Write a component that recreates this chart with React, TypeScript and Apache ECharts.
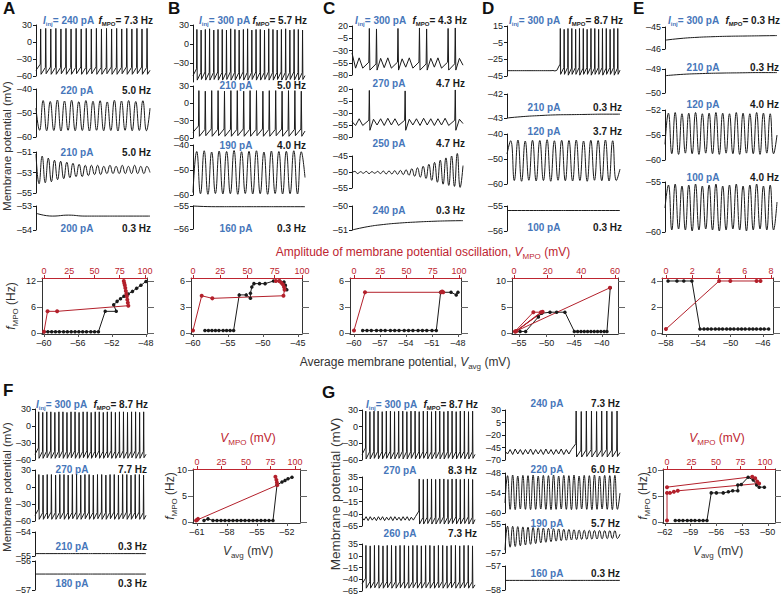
import React, { useEffect, useRef } from "react";
import * as echarts from "echarts";

// ---------------- membrane potential traces (sequence of extrema, mV) ----------------
const A1 = [-50, 23, -57, 24, -56, 23, -57, 24, -57, 23, -56, 24, -57, 23, -57, 24, -56, 23, -57, 24, -57, 23, -56, 24, -57, 23, -57, 24, -56, 23, -57, 24, -57, 23, -56, 24, -57, 23, -57, 24, -56, 23, -57, 24, -57, -50];
const A2 = [-48, -57.2, -44.8, -57.4, -45.2, -57.3, -44.6, -57.5, -45.0, -57.2, -44.7, -57.4, -45.3, -57.3, -44.8, -57.5, -45.1, -57.2, -44.9, -57.4, -45.4, -57.3, -44.7, -57.5, -45.0, -57.2, -44.8, -57.4, -45.2, -57.3, -44.9, -57.4, -48];
const A3 = [-51.2, -54.1, -51.4, -54.0, -51.6, -53.9, -51.8, -53.7, -51.9, -53.6, -52.0, -53.5, -52.1, -53.4, -52.2, -53.4, -52.3, -53.3, -52.3, -53.2, -52.3, -53.2, -52.4, -53.1, -52.3, -53.1, -52.4, -53.1, -52.3, -53.1, -52.4, -53.1, -52.3, -53.1, -52.4, -53.1, -52.4, -53.0];
const A4 = [-53.3, -53.42, -53.38, -53.42, -53.42, -53.42, -53.42, -53.42];
const B1 = [-50, 23, -57, 22, -56, 23, -57, 24, -57, 22, -56, 23, -57, 23, -57, 22, -56, 24, -57, 23, -57, 22, -56, 23, -57, 24, -57, 22, -56, 23, -57, 23, -57, 22, -56, 24, -57, 23, -57, 22, -56, 23, -57, 24, -57, 22, -56, 23, -57, 23, -57, 22, -56, -50];
const B2 = [-50, 22, -57, 21, -56, 22, -57, 22, -56, 21, -57, 22, -57, 22, -56, 21, -57, 22, -57, 22, -56, 21, -57, 22, -57, 22, -56, 21, -57, 22, -57, 22, -56, 21, -57, -48];
const B3 = [-59, -42.6, -59.5, -42.3, -59.7, -42.8, -59.4, -42.4, -59.6, -42.6, -59.5, -42.2, -59.7, -42.7, -59.4, -42.5, -59.6, -42.3, -59.5, -42.8, -59.7, -42.4, -59.4, -42.6, -59.6, -42.5, -59.5, -42.3, -59.6, -42.7, -53];
const B4 = [-55.0, -55.03, -55.03, -55.03, -55.03, -55.03];
const C1 = [-35, -66, -45, -66, 15, -70, 14, -70, -46, -65, -45, -66, 15, -70, -47, -64, -45, -66, 16, -70, 14, -70, -46, -64, -45, -66, 15, -70, 16, -70, -46, -60];
const C2 = [-48, -56, -42, -56, 17, -66, -43, -55, -42, -56, -41, -55, -42, -56, 16, -66, -43, -55, -42, -56, -41, -55, -42, -56, -42, -55, -41, -56, 18, -66, -43, -52];
const C3 = [-50.2, -49.8, -50.5, -49.9, -50.4, -49.8, -50.5, -49.9, -50.4, -49.8, -50.5, -49.7, -50.6, -49.7, -50.6, -49.6, -50.7, -49.5, -50.8, -49.3, -51.0, -49.0, -51.3, -48.7, -51.6, -48.2, -52.0, -47.6, -52.6, -47.0, -53.2, -46.3, -53.8, -45.6, -54.2, -45.0, -54.5, -44.2, -54.8, -48];
const C4 = [-51, -50.86, -50.77, -50.71, -50.67, -50.64, -50.62, -50.61];
const D1 = [-38.6, -38.6, -38.6, -38.6, -38.6, -38.6, -38.6, -38.6, -38.6, -38.6, -38.6, -38.6, -38.6, -38.6, -38.6, -38.6, -38.6, -38.6, -38.6, -38.6, -38.6, -38.6, -38.6, -38.6, -38.4, -38.9, -38.3, 12, -43, 11, -43, 12, -44, 12, -43, 11, -43, 12, -44, 12, -43, 11, -43, 12, -44, 12, -43, 11, -43, 12, -44, 12, -43, 11, -43, 12, -44, 12, -43, -38];
const D2 = [-43, -42.94, -42.9, -42.87, -42.86, -42.85, -42.84, -42.84];
const D3 = [-48, -42.7, -58.6, -42.4, -58.9, -42.8, -58.5, -42.5, -58.8, -42.6, -58.6, -42.3, -58.9, -42.7, -58.5, -42.5, -58.7, -42.6, -58.8, -42.4, -58.6, -42.8, -58.9, -42.5, -58.5, -42.6, -58.7, -42.4, -58.8, -42.7, -58.6, -54];
const D4 = [-55.18, -55.18, -55.18, -55.18, -55.18, -55.18];
const E1 = [-45.6, -45.52, -45.47, -45.44, -45.42, -45.41, -45.4, -45.39];
const E2 = [-49.28, -49.22, -49.19, -49.17, -49.16, -49.15, -49.15];
const E3 = [-57.5, -52.5, -59.0, -52.4, -59.1, -52.6, -58.9, -52.5, -59.0, -52.4, -59.1, -52.6, -58.9, -52.5, -59.0, -52.4, -59.1, -52.5, -58.9, -52.6, -59.0, -52.4, -59.1, -52.5, -58.9, -52.6, -59.0, -52.4, -59.1, -52.5, -58.9, -52.6, -59.0, -56];
const E4 = [-57.6, -55.3, -59.8, -55.2, -59.7, -55.4, -59.8, -55.3, -59.9, -55.2, -59.8, -55.4, -59.7, -55.3, -59.8, -55.2, -59.9, -55.4, -59.8, -55.3, -59.7, -55.2, -59.8, -55.4, -59.9, -55.3, -59.8, -55.2, -59.7, -55.4, -59.8, -55.3, -59.8, -57];
const F1 = [-50, 25, -57, 24, -57, 25, -56, 25, -57, 24, -57, 25, -56, 25, -57, 24, -57, 25, -56, 25, -57, 24, -57, 25, -56, 25, -57, 24, -57, 25, -56, 25, -57, 24, -57, 25, -56, 25, -57, 24, -57, 25, -56, 25, -57, 24, -57, 25, -56, 25, -57, 24, -57, 25, -56, -50];
const F2 = [-50, 22, -57, 21, -57, 22, -56, 22, -57, 21, -57, 22, -56, 22, -57, 21, -57, 22, -56, 22, -57, 21, -57, 22, -56, 22, -57, 21, -57, 22, -56, 22, -57, 21, -57, 22, -56, 22, -57, 21, -57, 22, -56, 22, -57, 21, -57, 22, -56, 22, -57, 21, -57, -50];
const F3 = [-54.9, -54.9, -54.9, -54.9, -54.9, -54.9];
const F4 = [-56.45, -56.45, -56.45, -56.45, -56.45, -56.45];
const G1 = [-50, 28, -58, 27, -58, 28, -57, 28, -58, 27, -58, 28, -57, 28, -58, 27, -58, 28, -57, 28, -58, 27, -58, 28, -57, 28, -58, 27, -58, 28, -57, 28, -58, 27, -58, 28, -57, 28, -58, 27, -58, 28, -57, 28, -58, 27, -58, 28, -57, 28, -58, 27, -58, 28, -57, -50];
const G2 = [-48, -53, -46, -54, -46, -53, -47, -54, -46, -53, -46, -54, -47, -53, -46, -54, -46, -53, -47, -54, -46, -53, -46, -54, -47, -53, -46, 31, -61, 30, -61, 31, -60, 31, -61, 30, -61, 31, -60, 31, -61, 30, -61, 31, -60, 31, -61, 30, -61, 31, -60, 31, -61, 30, -61, -52];
const G3 = [-50, 32, -59, 31, -59, 32, -58, 32, -59, 31, -59, 32, -58, 32, -59, 31, -59, 32, -58, 32, -59, 31, -59, 32, -58, 32, -59, 31, -59, 32, -58, 32, -59, 31, -59, 32, -58, 32, -59, 31, -59, 32, -58, 32, -59, 31, -59, 32, -58, 32, -59, 31, -59, -52];
const G4 = [-52, -58, -49, -59, -48, -58, -49, -59, -49, -58, -48, -59, -49, -58, -49, -59, -48, -58, -49, -59, -49, -58, -48, -59, -49, -58, -49, 28, -64, 27, -64, 28, -63, 28, -64, 27, -64, 28, -63, 28, -64, 27, -64, 28, -63, -55];
const G5 = [-57, -48.8, -58.9, -48.6, -59.0, -48.9, -58.8, -48.7, -58.9, -48.8, -59.0, -48.6, -58.9, -48.9, -58.8, -48.7, -58.9, -48.8, -59.0, -48.6, -58.9, -48.9, -58.8, -48.7, -58.9, -48.8, -59.0, -48.6, -58.9, -48.9, -58.8, -48.7, -58.9, -48.8, -59.0, -48.6, -58.9, -48.9, -58.8, -48.7, -58.9, -48.8, -59.0, -48.7, -58.9, -54];
const G6 = [-56.8, -55.15, -56.6, -55.16, -56.55, -55.18, -56.5, -55.2, -56.45, -55.22, -56.4, -55.24, -56.35, -55.26, -56.3, -55.28, -56.26, -55.3, -56.22, -55.32, -56.18, -55.34, -56.15, -55.36, -56.12, -55.38, -56.1, -55.4, -56.08, -55.42, -56.06, -55.43, -56.05, -55.44, -56.04, -55.45, -56.03, -55.45, -56.02, -55.46, -56.01, -55.46, -56.0, -55.46, -56.0, -55.7];
const G7 = [-57.6, -57.6, -57.6, -57.6, -57.6, -57.6];

// ---------------- f_MPO vs V_avg (black) and vs V_MPO (red) ----------------
const sA_black = [[-60.0, 0.3], [-59.55, 0.3], [-59.1, 0.3], [-58.65, 0.3], [-58.2, 0.3], [-57.7, 0.3], [-57.25, 0.3], [-56.8, 0.3], [-56.35, 0.3], [-55.9, 0.3], [-55.45, 0.3], [-55.0, 0.3], [-54.5, 0.3], [-54.05, 0.3], [-53.6, 0.3], [-52.8, 5.0], [-51.5, 5.0], [-51.8, 6.5], [-51.4, 7.3], [-51.0, 7.9], [-50.6, 8.5], [-50.1, 9.0], [-49.6, 9.6], [-49.1, 10.3], [-48.6, 11.0], [-48.0, 11.9]];
const sA_red = [[0, 0.3], [3.5, 5.0], [13, 5.0], [83.5, 6.3], [83, 7.0], [82.5, 7.7], [82, 8.4], [81.5, 9.0], [81, 9.7], [80.5, 10.4], [80, 11.0], [79.5, 11.5], [79, 12.0]];
const sB_black = [[-58.3, 0.3], [-57.8, 0.3], [-57.3, 0.3], [-56.8, 0.3], [-56.3, 0.3], [-55.7, 0.3], [-55.2, 0.3], [-54.7, 0.3], [-54.2, 0.3], [-53.4, 4.4], [-52.4, 4.4], [-51.8, 4.0], [-51.8, 4.6], [-51.6, 5.3], [-51.3, 5.7], [-50.5, 5.7], [-49.7, 5.7], [-48.5, 6.0], [-47.6, 6.0], [-47.0, 5.9], [-46.8, 5.5], [-46.6, 5.0]];
const sB_red = [[0, 0.3], [8, 4.3], [17.7, 4.0], [83, 4.3], [84, 5.0], [83.5, 5.3], [82.5, 5.6], [81, 5.8], [79, 6.0], [76, 6.0]];
const sC_black = [[-59.0, 0.3], [-58.5, 0.3], [-58.0, 0.3], [-57.4, 0.3], [-56.9, 0.3], [-56.4, 0.3], [-55.8, 0.3], [-55.3, 0.3], [-54.8, 0.3], [-54.2, 0.3], [-53.7, 0.3], [-53.2, 0.3], [-52.6, 0.3], [-52.1, 0.3], [-51.6, 0.3], [-51.0, 0.3], [-50.5, 0.3], [-50.0, 4.7], [-48.8, 4.7], [-48.2, 4.4], [-48.0, 4.7]];
const sC_red = [[0, 0.3], [10.5, 4.7], [83, 4.7], [84, 4.8], [85, 4.7]];
const sD_black = [[-55.7, 0.3], [-54.8, 0.3], [-53.8, 0.3], [-51.5, 3.1], [-50.9, 3.8], [-49.4, 4.0], [-48.2, 4.0], [-46.7, 4.0], [-45.0, 0.3], [-44.4, 0.3], [-43.8, 0.3], [-43.2, 0.3], [-42.6, 0.3], [-42.0, 0.3], [-41.4, 0.3], [-40.8, 0.3], [-40.2, 0.3], [-39.6, 0.3], [-39.1, 0.3], [-38.5, 8.7]];
const sD_red = [[0.6, 0.3], [11.5, 4.0], [16, 4.0], [1, 0.3], [17, 4.1], [1.5, 0.4], [57, 8.7]];
const sE_black = [[-57.75, 4], [-56.65, 4], [-55.8, 4], [-54.8, 4], [-53.8, 0.3], [-53.3, 0.3], [-52.85, 0.3], [-52.4, 0.3], [-51.9, 0.3], [-51.45, 0.3], [-51.0, 0.3], [-50.5, 0.3], [-50.05, 0.3], [-49.6, 0.3], [-49.1, 0.3], [-48.65, 0.3], [-48.2, 0.3], [-47.7, 0.3], [-47.25, 0.3], [-46.8, 0.3], [-46.3, 0.3], [-45.85, 0.3], [-45.3, 0.3]];
const sE_red = [[0, 0.3], [4.05, 4.0], [4.9, 4.0], [6.9, 4.0], [7.2, 4.0]];
const sF_black = [[-60.3, 0.3], [-59.9, 0.6], [-59.4, 0.3], [-59.0, 0.3], [-58.6, 0.3], [-58.2, 0.3], [-57.8, 0.3], [-57.4, 0.3], [-57.0, 0.3], [-56.6, 0.3], [-56.2, 0.3], [-55.8, 0.3], [-55.4, 0.3], [-55.0, 0.3], [-54.6, 0.3], [-54.2, 0.3], [-53.8, 0.3], [-53.4, 0.3], [-53.0, 7.1], [-52.5, 7.7], [-52.2, 8.0], [-51.9, 8.3], [-51.5, 8.6]];
const sF_red = [[0, 0.4], [1, 0.6], [-1, 0.3], [82, 7.1], [81.5, 7.6], [81, 8.1], [80, 8.7]];
const sG_black = [[-60.8, 0.3], [-60.35, 0.3], [-59.9, 0.3], [-59.4, 0.3], [-58.95, 0.3], [-58.5, 0.3], [-58.0, 0.3], [-57.55, 0.3], [-57.1, 0.3], [-56.6, 5.6], [-56.0, 5.6], [-55.2, 5.6], [-54.6, 5.8], [-54.1, 6.0], [-53.5, 6.0], [-53.5, 7.1], [-53.1, 7.2], [-52.3, 8.6], [-51.7, 8.1], [-51.3, 7.1], [-51.0, 6.7], [-50.4, 6.7]];
const sG_red = [[0, 0.3], [0, 5.6], [3, 5.6], [7, 5.8], [11, 6.0], [94, 7.4], [92, 7.8], [90, 8.4], [87, 8.7], [0, 6.7]];

// tick labels of the scatter plots
const vTicksA = [-60, -56, -52, -48];
const vTicksB = [-60, -55, -50, -45];
const vTicksC = [-60, -57, -54, -51, -48];
const vTicksD = [-55, -50, -45, -40];
const vTicksE = [-58, -54, -50, -46];
const vTicksF = [-61, -58, -55, -52];
const vTicksG = [-62, -59, -56, -53, -50];
const aTicks100 = [0, 25, 50, 75, 100];
const aTicksD = [0, 20, 40, 60];
const aTicksE = [0, 2, 4, 6, 8];
const fTicksA = [0, 6, 12];
const fTicksBC = [0, 3, 6];
const fTicks10 = [0, 5, 10];
const fTicksE = [0, 2, 4];

// injected currents (pA) and MPO frequencies (Hz)
const injA = ["240", "220", "210", "200"];
const freqA = ["7.3", "5.0", "5.0", "0.3"];
const injB = ["300", "210", "190", "160"];
const freqB = ["5.7", "5.0", "4.0", "0.3"];
const injC = ["300", "270", "250", "240"];
const freqC = ["4.3", "4.7", "4.7", "0.3"];
const injD = ["300", "210", "120", "100"];
const freqD = ["8.7", "0.3", "3.7", "0.3"];
const injE = ["300", "210", "120", "100"];
const freqE = ["0.3", "0.3", "4.0", "4.0"];
const injF = ["300", "270", "210", "180"];
const freqF = ["8.7", "7.7", "0.3", "0.3"];
const injG = ["300", "270", "260", "240", "220", "190", "160"];
const freqG = ["8.7", "8.3", "7.3", "7.3", "6.0", "5.7", "0.3"];

// ---------------- styling / layout ----------------
const FONT = '"Liberation Sans", Arial, Helvetica, sans-serif';
const INK = "#1a1a1a";
const BLUE = "#4676ba";
const RED = "#bd2530";
const REDLINE = "#b3202b";
const SPIKE_CUT = -20;

const dash = (v: number) => (v < 0 ? "\u2013" + String(Math.abs(v)) : String(v));

function toPoints(vals: number[]) {
  const pts: number[][] = [];
  let x = 0;
  for (let i = 0; i < vals.length; i++) {
    const v = vals[i];
    if (i === 0) {
      pts.push([0, v]);
      continue;
    }
    const prev = vals[i - 1];
    if (v > SPIKE_CUT) {
      pts.push([x + 0.85, prev + 0.15 * (v - prev)]);
      x += 0.92;
      pts.push([x, v]);
    } else if (prev > SPIKE_CUT) {
      x += 0.08;
      pts.push([x, v]);
    } else {
      x += 0.5;
      pts.push([x, v]);
    }
  }
  return pts;
}

type TraceSpec = { d: number[]; l: number; r: number; t: number; b: number; min: number; max: number; iv: number; sm?: boolean; hideMin?: boolean };
const TRACES: TraceSpec[] = [
  { d: A1, l: 36, r: 150, t: 25, b: 76, min: -60, max: 30, iv: 30 },
  { d: A2, l: 36, r: 150, t: 89, b: 137, min: -60, max: -40, iv: 10, sm: true },
  { d: A3, l: 36, r: 150, t: 152, b: 193, min: -55, max: -51, iv: 2, sm: true },
  { d: A4, l: 36, r: 150, t: 206, b: 230, min: -54, max: -53, iv: 1, sm: true },
  { d: B1, l: 193, r: 305, t: 25, b: 82, min: -60, max: 30, iv: 30, hideMin: true },
  { d: B2, l: 193, r: 305, t: 86, b: 138, min: -60, max: 30, iv: 30 },
  { d: B3, l: 193, r: 305, t: 145, b: 195, min: -60, max: -40, iv: 10, sm: true },
  { d: B4, l: 193, r: 305, t: 206, b: 229, min: -56, max: -55, iv: 1, sm: true },
  { d: C1, l: 352, r: 463, t: 26, b: 75, min: -80, max: 20, iv: 25 },
  { d: C2, l: 352, r: 463, t: 89, b: 137, min: -80, max: 20, iv: 25 },
  { d: C3, l: 352, r: 463, t: 156, b: 188, min: -55, max: -45, iv: 5, sm: true },
  { d: C4, l: 352, r: 463, t: 206, b: 230, min: -51, max: -50, iv: 1, sm: true },
  { d: D1, l: 507, r: 620, t: 26, b: 76, min: -45, max: 15, iv: 20 },
  { d: D2, l: 507, r: 620, t: 94, b: 118, min: -43, max: -42, iv: 1, sm: true },
  { d: D3, l: 507, r: 620, t: 134, b: 184, min: -60, max: -40, iv: 10, sm: true },
  { d: D4, l: 507, r: 620, t: 206, b: 231, min: -56, max: -55, iv: 1, sm: true },
  { d: E1, l: 665, r: 777, t: 27, b: 49, min: -46, max: -45, iv: 1, sm: true },
  { d: E2, l: 665, r: 777, t: 69, b: 93, min: -50, max: -49, iv: 1, sm: true },
  { d: E3, l: 665, r: 777, t: 110, b: 160, min: -60, max: -52, iv: 4, sm: true },
  { d: E4, l: 665, r: 777, t: 182, b: 232, min: -60, max: -55, iv: 5, sm: true },
  { d: F1, l: 35, r: 146, t: 409, b: 460, min: -60, max: 30, iv: 30 },
  { d: F2, l: 35, r: 146, t: 470, b: 521, min: -60, max: 30, iv: 30 },
  { d: F3, l: 35, r: 146, t: 532, b: 556, min: -55, max: -54, iv: 1, sm: true },
  { d: F4, l: 35, r: 146, t: 561, b: 590, min: -57, max: -56, iv: 1, sm: true },
  { d: G1, l: 362, r: 475, t: 410, b: 460, min: -60, max: 30, iv: 30 },
  { d: G2, l: 362, r: 475, t: 477, b: 526, min: -65, max: 35, iv: 25 },
  { d: G3, l: 362, r: 475, t: 544, b: 591, min: -65, max: 35, iv: 25 },
  { d: G4, l: 505, r: 620, t: 410, b: 460, min: -70, max: 30, iv: 25 },
  { d: G5, l: 505, r: 620, t: 473, b: 513, min: -60, max: -48, iv: 6, sm: true },
  { d: G6, l: 505, r: 620, t: 524, b: 553, min: -57, max: -55, iv: 2, sm: true },
  { d: G7, l: 505, r: 620, t: 566, b: 590, min: -58, max: -57, iv: 1, sm: true },
];

type ScatterSpec = {
  black: number[][]; red: number[][]; box: number[];
  vx: number[]; vT: number[]; ax: number[]; aT: number[]; fy: number[]; fT: number[];
};
const SCATTERS: ScatterSpec[] = [
  { black: sA_black, red: sA_red, box: [42, 278, 147, 334], vx: [-60.24, -47.88], vT: vTicksA, ax: [-1.98, 102], aT: aTicks100, fy: [-0.23, 12.69], fT: fTicksA },
  { black: sB_black, red: sB_red, box: [191, 278, 302, 334], vx: [-60.29, -44.43], vT: vTicksB, ax: [-1.83, 100], aT: aTicks100, fy: [-0.115, 6.35], fT: fTicksBC },
  { black: sC_black, red: sC_red, box: [350, 278, 461, 334], vx: [-60.46, -47.65], vT: vTicksC, ax: [-3.8, 101.9], aT: aTicks100, fy: [-0.115, 6.35], fT: fTicksBC },
  { black: sD_black, red: sD_red, box: [512, 278, 618, 334], vx: [-56.27, -37.1], vT: vTicksD, ax: [-1.19, 61.8], aT: aTicksD, fy: [-0.19, 10.58], fT: fTicks10 },
  { black: sE_black, red: sE_red, box: [662, 278, 773, 334], vx: [-58.5, -44.76], vT: vTicksE, ax: [-0.3, 8.15], aT: aTicksE, fy: [-0.077, 4.23], fT: fTicksE },
  { black: sF_black, red: sF_red, box: [193, 469, 300, 523], vx: [-61.4, -50.7], vT: vTicksF, ax: [-4.1, 105.1], aT: aTicks100, fy: [-0.19, 10.19], fT: fTicks10 },
  { black: sG_black, red: sG_red, box: [663, 469, 775, 523], vx: [-62.23, -49.16], vT: vTicksG, ax: [-4.1, 110.2], aT: aTicks100, fy: [-0.19, 10.19], fT: fTicks10 },
];

type PanelText = { inj: string[]; freq: string[]; y0: number; ix: number; fx0: number; rest: number[][] };
const PANEL_TEXT: PanelText[] = [
  { inj: injA, freq: freqA, y0: 20, ix: 43, fx0: 153, rest: [[77, 151, 90], [77, 151, 152], [77, 151, 228]] },
  { inj: injB, freq: freqB, y0: 20, ix: 199, fx0: 307, rest: [[236, 306, 85], [236, 306, 145], [236, 306, 228]] },
  { inj: injC, freq: freqC, y0: 20, ix: 355, fx0: 467, rest: [[389, 465, 83], [389, 465, 143], [389, 465, 210]] },
  { inj: injD, freq: freqD, y0: 20, ix: 509, fx0: 623, rest: [[544, 622, 107], [544, 622, 131], [544, 622, 227]] },
  { inj: injE, freq: freqE, y0: 20, ix: 668, fx0: 780, rest: [[703, 779, 67], [703, 779, 104], [703, 779, 177]] },
  { inj: injF, freq: freqF, y0: 404, ix: 36, fx0: 148, rest: [[72, 147, 469], [72, 147, 546], [72, 147, 583]] },
  { inj: injG, freq: freqG, y0: 404, ix: 366, fx0: 478, rest: [[400, 477, 470], [400, 477, 533], [547, 620, 403], [547, 620, 469], [547, 620, 523], [547, 620, 573]] },
];

function richSet(color: string, size: number, bold: boolean, subRatio = 0.68) {
  const base: any = { fill: color, fontSize: size, fontWeight: bold ? "bold" : "normal", fontFamily: FONT, lineHeight: size + 4 };
  const sub = Math.round(size * subRatio);
  return {
    n: base,
    i: { ...base, fontStyle: "italic" },
    s: { ...base, fontSize: sub, lineHeight: sub, verticalAlign: "bottom" },
  };
}

function txt(x: number, y: number, text: string, color: string, size: number, bold: boolean, align: string, rot = 0, subRatio = 0.68): any {
  return {
    type: "text",
    x,
    y,
    rotation: rot,
    silent: true,
    style: {
      text,
      rich: richSet(color, size, bold, subRatio),
      fill: color,
      fontSize: size,
      fontWeight: bold ? "bold" : "normal",
      fontFamily: FONT,
      align,
      textAlign: align,
      verticalAlign: "middle",
      textVerticalAlign: "middle",
    },
  };
}

function buildOption() {
  const grid: any[] = [];
  const xAxis: any[] = [];
  const yAxis: any[] = [];
  const series: any[] = [];

  TRACES.forEach((t) => {
    const gi = grid.length;
    grid.push({ left: t.l, top: t.t, width: t.r - t.l, height: t.b - t.t, outerBoundsMode: "none" });
    const pts = toPoints(t.d);
    const xi = xAxis.length;
    xAxis.push({ gridIndex: gi, type: "value", min: 0, max: pts[pts.length - 1][0], show: false });
    const yi = yAxis.length;
    yAxis.push({
      gridIndex: gi, type: "value", min: t.min, max: t.max, interval: t.iv,
      axisLine: { show: true, onZero: false, lineStyle: { color: INK, width: 1 } },
      axisTick: { show: true, length: 3, lineStyle: { color: INK, width: 1 } },
      axisLabel: { fontSize: 9, color: INK, margin: 4, fontFamily: FONT, formatter: dash, showMinLabel: !t.hideMin },
      splitLine: { show: false },
    });
    series.push({
      type: "line", xAxisIndex: xi, yAxisIndex: yi, data: pts, symbol: "none",
      smooth: t.sm ? 0.5 : false, lineStyle: { color: INK, width: 1 }, clip: false, silent: true,
    });
  });

  SCATTERS.forEach((s) => {
    const gi = grid.length;
    grid.push({ left: s.box[0], top: s.box[1], width: s.box[2] - s.box[0], height: s.box[3] - s.box[1], outerBoundsMode: "none" });
    const xb = xAxis.length;
    xAxis.push({
      gridIndex: gi, type: "value", position: "bottom", min: s.vx[0], max: s.vx[1],
      axisLine: { show: true, onZero: false, lineStyle: { color: "#333", width: 1 } },
      axisTick: { show: true, customValues: s.vT, length: 3, lineStyle: { color: "#555" } },
      axisLabel: { customValues: s.vT, formatter: dash, fontSize: 9, color: INK, margin: 4, fontFamily: FONT },
      splitLine: { show: false },
    });
    const xt = xAxis.length;
    xAxis.push({
      gridIndex: gi, type: "value", position: "top", min: s.ax[0], max: s.ax[1],
      axisLine: { show: true, onZero: false, lineStyle: { color: RED, width: 1 } },
      axisTick: { show: true, customValues: s.aT, length: 3, lineStyle: { color: RED } },
      axisLabel: { customValues: s.aT, fontSize: 9, color: RED, margin: 3, fontFamily: FONT },
      splitLine: { show: false },
    });
    const yl = yAxis.length;
    yAxis.push({
      gridIndex: gi, type: "value", position: "left", min: s.fy[0], max: s.fy[1],
      axisLine: { show: true, onZero: false, lineStyle: { color: "#333", width: 1 } },
      axisTick: { show: true, customValues: s.fT, length: 5, lineStyle: { color: "#666" } },
      axisLabel: { customValues: s.fT, fontSize: 9, color: INK, margin: 6, fontFamily: FONT },
      splitLine: { show: false },
    });
    yAxis.push({
      gridIndex: gi, type: "value", position: "right", min: s.fy[0], max: s.fy[1],
      axisLine: { show: true, onZero: false, lineStyle: { color: "#333", width: 1 } },
      axisTick: { show: true, customValues: s.fT, length: 7, lineStyle: { color: "#666" } },
      axisLabel: { show: false },
      splitLine: { show: false },
    });
    series.push({
      type: "line", xAxisIndex: xb, yAxisIndex: yl, data: s.black, symbol: "circle", symbolSize: 3.5,
      itemStyle: { color: INK }, lineStyle: { color: INK, width: 1 }, silent: true,
    });
    series.push({
      type: "line", xAxisIndex: xt, yAxisIndex: yl, data: s.red, symbol: "circle", symbolSize: 4,
      itemStyle: { color: REDLINE }, lineStyle: { color: REDLINE, width: 1 }, silent: true,
    });
  });

  const els: any[] = [];
  // panel letters
  const letters: [string, number, number][] = [["A", 3, 8], ["B", 168, 8], ["C", 323, 8], ["D", 482, 8], ["E", 633, 8], ["F", 3, 390], ["G", 322, 392]];
  letters.forEach(([l, x, y]) => els.push(txt(x, y, l, "#111", 17, true, "left")));

  PANEL_TEXT.forEach((p) => {
    els.push(txt(p.ix, p.y0, `{i|I}{s|inj}{n|= ${p.inj[0]} pA}`, BLUE, 10, true, "left", 0, 0.6));
    els.push(txt(p.fx0, p.y0, `{i|f}{s|MPO}{n|= ${p.freq[0]} Hz}`, INK, 10, true, "right", 0, 0.6));
    p.rest.forEach((r, k) => {
      els.push(txt(r[0], r[2], `${p.inj[k + 1]} pA`, BLUE, 10, true, "center"));
      els.push(txt(r[1], r[2], `${p.freq[k + 1]} Hz`, INK, 10, true, "right"));
    });
  });

  // axis titles
  els.push(txt(7, 146, "Membrane potential (mV)", "#333", 11.5, false, "center", Math.PI / 2));
  els.push(txt(7, 487, "Membrane potential (mV)", "#333", 11.5, false, "center", Math.PI / 2));
  els.push(txt(335, 494, "Membrane potential (mV)", "#333", 13.5, false, "center", Math.PI / 2));
  els.push(txt(11, 306, "{i|f}{s|MPO}{n| (Hz)}", "#333", 12, false, "center", Math.PI / 2));
  els.push(txt(170, 496, "{i|f}{s|MPO}{n| (Hz)}", "#333", 12, false, "center", Math.PI / 2));
  els.push(txt(643, 496, "{i|f}{s|MPO}{n| (Hz)}", "#333", 12, false, "center", Math.PI / 2));
  els.push(txt(423, 252, "{n|Amplitude of membrane potential oscillation, }{i|V}{s|MPO}{n| (mV)}", RED, 12, false, "center"));
  els.push(txt(405, 362, "{n|Average membrane potential, }{i|V}{s|avg}{n| (mV)}", "#333", 12, false, "center"));
  els.push(txt(248, 438, "{i|V}{s|MPO}{n| (mV)}", RED, 12, false, "center"));
  els.push(txt(248, 551, "{i|V}{s|avg}{n| (mV)}", "#333", 12, false, "center"));
  els.push(txt(717, 438, "{i|V}{s|MPO}{n| (mV)}", RED, 12, false, "center"));
  els.push(txt(718, 551, "{i|V}{s|avg}{n| (mV)}", "#333", 12, false, "center"));

  return {
    animation: false,
    backgroundColor: "#ffffff",
    textStyle: { fontFamily: FONT },
    grid,
    xAxis,
    yAxis,
    series,
    graphic: { elements: els },
  };
}

export default function App() {
  const ref = useRef<HTMLDivElement>(null);
  useEffect(() => {
    if (!ref.current) return;
    const chart = echarts.init(ref.current, undefined, { renderer: "svg" });
    chart.setOption(buildOption() as any);
    return () => chart.dispose();
  }, []);
  return (
    <div
      ref={ref}
      style={{ position: "absolute", left: 0, top: 0, width: 781, height: 595, background: "#fff" }}
    />
  );
}
